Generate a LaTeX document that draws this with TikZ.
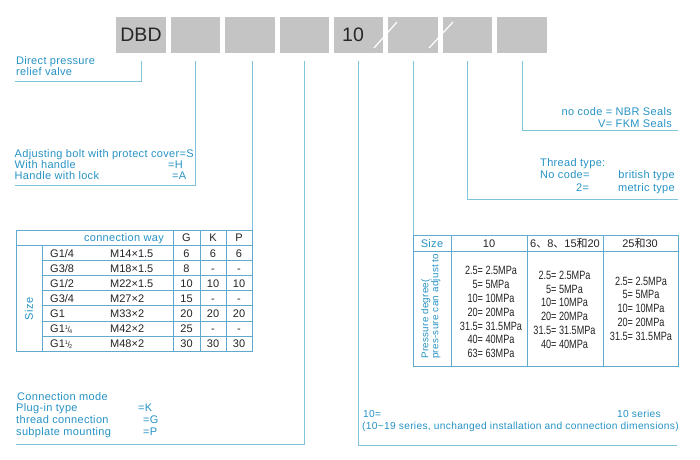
\documentclass[tikz,border=0pt]{standalone}
\usepackage{fontspec}
\setmainfont{Liberation Sans}
\newfontfamily\bluefont[LetterSpace=3]{Liberation Sans}
\newfontfamily\narrowfont[FakeStretch=0.76]{Liberation Sans}
\newfontfamily\cjkfont{Noto Sans CJK SC}
\definecolor{txtblue}{RGB}{38,146,196}
\definecolor{leadblue}{RGB}{128,196,220}
\definecolor{tabblue}{RGB}{96,170,205}
\definecolor{boxgray}{RGB}{196,196,196}
\definecolor{tabtext}{RGB}{35,35,35}
\newcommand\myfrac[2]{\raisebox{2.8pt}{\fontsize{5.5}{6}\selectfont#1}\kern-0.3pt{\fontsize{8}{8}\selectfont/}\kern-0.8pt\raisebox{-1.2pt}{\fontsize{5.5}{6}\selectfont#2}}
\begin{document}
\begin{tikzpicture}[x=1pt,y=-1pt,
  box/.style={fill=boxgray,minimum width=49.5pt,minimum height=36pt,inner sep=0pt,
    font=\fontsize{19.5}{20}\selectfont,text=black!85},
  boxtxt/.style={inner sep=0pt,font=\fontsize{19.5}{20}\selectfont,text=black!85},
  lead/.style={draw=leadblue,line width=1pt},
  tab/.style={draw=tabblue,line width=1pt},
  slashline/.style={draw=white,line width=1.2pt},
  btxt/.style={anchor=base west,inner sep=0pt,text=txtblue,font=\bluefont\fontsize{11}{12}\selectfont},
  btxte/.style={btxt,anchor=base east},
  smtxt/.style={btxt,font=\bluefont\fontsize{10.2}{12}\selectfont},
  ttxt/.style={anchor=base,inner sep=0pt,text=tabtext,font=\fontsize{11}{12}\selectfont},
  ltxt/.style={ttxt,anchor=base west},
  mp/.style={inner sep=0pt,text=tabtext,font=\narrowfont\fontsize{12}{13.8}\selectfont}
]
\useasboundingbox (0,0) rectangle (700,459);

% code boxes
\node[box] (b1) at (141,35) {DBD};
\node[box] (b2) at (195.4,35) {};
\node[box] (b3) at (249.9,35) {};
\node[box] (b4) at (304.3,35) {};
\node[box] (b5) at (358.7,35) {};
\node[box] (b6) at (413.2,35) {};
\node[box] (b7) at (467.6,35) {};
\node[box] (b8) at (522,35) {};
\node[boxtxt] (ten) at (353,35) {10};
\coordinate (sl1a) at (374,48); \coordinate (sl1b) at (397,22);
\coordinate (sl2a) at (429,48); \coordinate (sl2b) at (453,22);
\draw[slashline] (sl1a) -- (sl1b);
\draw[slashline] (sl2a) -- (sl2b);

% connector start points
\foreach \i in {1,...,8} { \coordinate (s\i) at ([yshift=-8pt]b\i.south); }

% ends
\coordinate (e1) at (15,81);
\coordinate (e2) at (15,185);
\coordinate (ltTR) at (252,230);
\coordinate (e4) at (16,444);
\coordinate (e5) at (677,445);
\coordinate (rtTL) at (413,235);
\coordinate (e7) at (678,199);
\coordinate (e8) at (678,130);

\draw[lead] (s1) |- (e1);
\draw[lead] (s2) |- (e2);
\draw[lead] (s3 -| ltTR) -- (ltTR);
\draw[lead] (s4) |- (e4);
\draw[lead] (s5) |- (e5);
\draw[lead] (s6 -| rtTL) -- (rtTL);
\draw[lead] (s7) |- (e7);
\draw[lead] (s8) |- (e8);

% left texts
\node[btxt] (dp1) at (16,64) {Direct pressure};
\node[btxt] (dp2) at (16,75.5) {relief valve};

\node[btxt] (ad1) at (14.5,157) {Adjusting bolt with protect cover=S};
\node[btxt] (ad2) at (14.5,168) {With handle};
\node[btxt] (ad3) at (14.5,179) {Handle with lock};
\node[btxt] (adH) at (168,168) {=H};
\node[btxt] (adA) at (172,179) {=A};

\node[btxt] (cm1) at (17,400) {Connection mode};
\node[btxt] (cm2) at (16,411.5) {Plug-in type};
\node[btxt] (cm3) at (16,423) {thread connection};
\node[btxt] (cm4) at (16,435) {subplate mounting};
\node[btxt] (cmK) at (138,411.5) {=K};
\node[btxt] (cmG) at (143,423) {=G};
\node[btxt] (cmP) at (143,435) {=P};

\node[smtxt] (sr1) at (363,417) {10=};
\node[smtxt] (srS) at (617,417) {10 series};
\node[smtxt] (sr2) at (362,429) {(10\textasciitilde19 series, unchanged installation and connection dimensions)};

\node[btxte] (ns1) at (672,115) {no code = NBR Seals};
\node[btxte] (ns2) at (672,127) {V= FKM Seals};

\node[btxt] (tt1) at (540,166) {Thread type:};
\node[btxt] (tt2) at (540,178) {No code=};
\node[btxte] (tt3) at (675,178) {british type};
\node[btxt] (tt4) at (576,191) {2=};
\node[btxte] (tt5) at (675,191) {metric type};

% left table
\draw[tab] (16,230) rectangle (252,351.7);
\draw[tab] (16,245) -- (252,245);
\draw[tab] (42,245) -- (42,351.7);
\foreach \k in {1,...,6} { \draw[tab] (42,245+15.24*\k) -- (252,245+15.24*\k); }
\draw[tab] (173,230) -- (173,351.7);
\draw[tab] (200,230) -- (200,351.7);
\draw[tab] (226,230) -- (226,351.7);

\node[btxte] (cw) at (164,241) {connection way};
\node[ttxt] (hG) at (186.5,241) {G};
\node[ttxt] (hK) at (213,241) {K};
\node[ttxt] (hP) at (239,241) {P};
\node[rotate=90,inner sep=0pt,text=txtblue,font=\bluefont\fontsize{11}{12}\selectfont] (lsize) at (29,309) {Size};

\node[ltxt] (r0a) at (50,257) {G1/4};
\node[ltxt] (r0b) at (110,257) {M14×1.5};
\node[ttxt] (r0g) at (186.5,257) {6};
\node[ttxt] (r0k) at (213,257) {6};
\node[ttxt] (r0p) at (239,257) {6};

\node[ltxt] (r1a) at (50,272) {G3/8};
\node[ltxt] (r1b) at (110,272) {M18×1.5};
\node[ttxt] (r1g) at (186.5,272) {8};
\node[ttxt] (r1k) at (213,272) {-};
\node[ttxt] (r1p) at (239,272) {-};

\node[ltxt] (r2a) at (50,287) {G1/2};
\node[ltxt] (r2b) at (110,287) {M22×1.5};
\node[ttxt] (r2g) at (186.5,287) {10};
\node[ttxt] (r2k) at (213,287) {10};
\node[ttxt] (r2p) at (239,287) {10};

\node[ltxt] (r3a) at (50,302) {G3/4};
\node[ltxt] (r3b) at (110,302) {M27×2};
\node[ttxt] (r3g) at (186.5,302) {15};
\node[ttxt] (r3k) at (213,302) {-};
\node[ttxt] (r3p) at (239,302) {-};

\node[ltxt] (r4a) at (50,317) {G1};
\node[ltxt] (r4b) at (110,317) {M33×2};
\node[ttxt] (r4g) at (186.5,317) {20};
\node[ttxt] (r4k) at (213,317) {20};
\node[ttxt] (r4p) at (239,317) {20};

\node[ltxt] (r5a) at (50,332) {G1\myfrac{1}{4}};
\node[ltxt] (r5b) at (110,332) {M42×2};
\node[ttxt] (r5g) at (186.5,332) {25};
\node[ttxt] (r5k) at (213,332) {-};
\node[ttxt] (r5p) at (239,332) {-};

\node[ltxt] (r6a) at (50,347) {G1\myfrac{1}{2}};
\node[ltxt] (r6b) at (110,347) {M48×2};
\node[ttxt] (r6g) at (186.5,347) {30};
\node[ttxt] (r6k) at (213,347) {30};
\node[ttxt] (r6p) at (239,347) {30};

% right table
\draw[tab] (413,235) rectangle (678,366);
\draw[tab] (413,251) -- (678,251);
\draw[tab] (451,235) -- (451,366);
\draw[tab] (527,235) -- (527,366);
\draw[tab] (603,235) -- (603,366);

\node[btxt,anchor=base] (rsize) at (432,247.5) {Size};
\node[ttxt] (h10) at (489,247.5) {10};
\node[ttxt] (h620) at (565,247.5) {6{\cjkfont 、}8{\cjkfont 、}15{\cjkfont 和}20};
\node[ttxt] (h2530) at (640,247.5) {25{\cjkfont 和}30};

\node[rotate=90,anchor=north west,align=left,inner sep=0pt,text=txtblue,
      font=\bluefont\fontsize{9.8}{10}\selectfont] (pd) at (421,359)
      {Pressure degree(\\pres-sure can adjust to};

\node[mp] (m1) at (491,313.5) {\begin{tabular}{@{}r@{ }l@{}}
2.5= & 2.5MPa\\ 5= & 5MPa\\ 10= & 10MPa\\ 20= & 20MPa\\ 31.5= & 31.5MPa\\ 40= & 40MPa\\ 63= & 63MPa
\end{tabular}};
\node[mp] (m2) at (564.5,311) {\begin{tabular}{@{}r@{ }l@{}}
2.5= & 2.5MPa\\ 5= & 5MPa\\ 10= & 10MPa\\ 20= & 20MPa\\ 31.5= & 31.5MPa\\ 40= & 40MPa
\end{tabular}};
\node[mp] (m3) at (641,310) {\begin{tabular}{@{}r@{ }l@{}}
2.5= & 2.5MPa\\ 5= & 5MPa\\ 10= & 10MPa\\ 20= & 20MPa\\ 31.5= & 31.5MPa
\end{tabular}};
\end{tikzpicture}
\end{document}
